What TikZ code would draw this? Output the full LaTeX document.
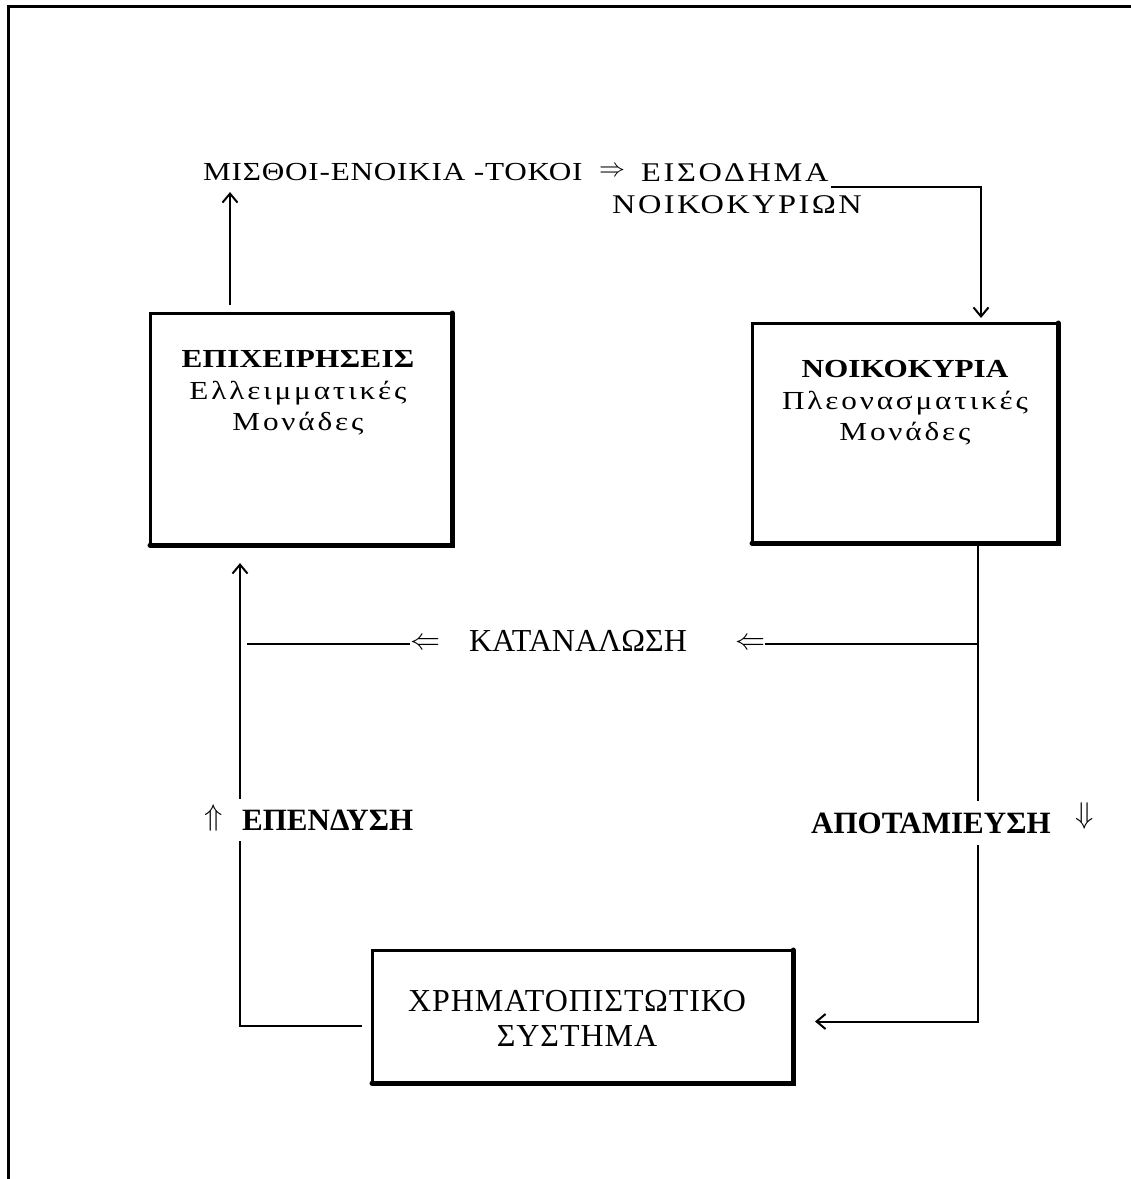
\RequirePackage{fix-cm}
\documentclass[tikz,border=0pt]{standalone}
\usepackage{fontspec}
\usetikzlibrary{arrows.meta}
\newfontfamily\tw{Liberation Serif}
\newfontfamily\tww[FakeStretch=1.2]{Liberation Serif}
\newcommand\ls[1]{\addfontfeature{LetterSpace=#1}}
\begin{document}
\begin{tikzpicture}[x=1pt,y=-1pt,
  boxs/.style={draw, line width=3pt, inner sep=0pt, outer sep=0pt, anchor=north west},
  heavy/.style={line width=5pt, line cap=round},
  boxtxt/.style={inner sep=0pt, align=center, font=\tww\fontsize{26}{31.5}\selectfont\ls{11}},
  toptxt/.style={inner sep=0pt, anchor=base west, font=\tww\fontsize{26}{26}\selectfont\ls{3}},
  bigtxt/.style={inner xsep=0pt, inner ysep=11pt, font=\tw\bfseries\fontsize{31}{31}\selectfont},
  arrtxt/.style={inner sep=0pt, font=\fontsize{30}{30}\selectfont},
  conn/.style={line width=2pt},
  tipc/.style={-{Straight Barb[length=9pt,width=15pt,line width=2pt]}},
]
\useasboundingbox (0,0) rectangle (1131,1179);
\fill[white] (0,0) rectangle (1131,1179);
\draw[line width=3pt] (1131,6) -- (8,6) -- (8,1179);

% vertical guide coordinates
\coordinate (lx) at (240,0);
\coordinate (rx) at (978,0);

% boxes
\node[boxs, minimum width=302pt, minimum height=232pt] (ent) at (150,313) {};
\node[boxs, minimum width=306pt, minimum height=220pt] (hh) at (752,323) {};
\node[boxs, minimum width=421pt, minimum height=133pt] (fin) at (372,950) {};
\draw[heavy] (ent.north east) -- (ent.south east) -- (ent.south west);
\draw[heavy] (hh.north east) -- (hh.south east) -- (hh.south west);
\draw[heavy] (fin.north east) -- (fin.south east) -- (fin.south west);

% box texts
\node[boxtxt] (entt) at (298,393) {{\bfseries\ls{1}ΕΠΙΧΕΙΡΗΣΕΙΣ}\\Ελλειμματικές\\Μονάδες};
\node[boxtxt] (hht) at (905,403) {{\bfseries\ls{0}ΝΟΙΚΟΚΥΡΙΑ}\\Πλεονασματικές\\Μονάδες};
\node[inner sep=0pt, align=center, font=\tw\fontsize{32}{35}\selectfont\ls{3}] (fint) at (577,1018) {ΧΡΗΜΑΤΟΠΙΣΤΩΤΙΚΟ\\ΣΥΣΤΗΜΑ};

% top texts
\node[toptxt] (wage) at (203,180) {ΜΙΣΘΟΙ-ΕΝΟΙΚΙΑ -ΤΟΚΟΙ};
\node[arrtxt, font=\fontsize{26}{26}\selectfont] (impl) at (612,172) {$\Rightarrow$};
\node[toptxt, font=\tww\fontsize{27}{27}\selectfont\ls{10}] (inc) at (641,181) {ΕΙΣΟΔΗΜΑ};
\node[toptxt, font=\tww\fontsize{27}{27}\selectfont\ls{9}] (inc2) at (612,213) {ΝΟΙΚΟΚΥΡΙΩΝ};

% consumption row
\node[inner sep=0pt, font=\tw\fontsize{32}{32}\selectfont] (cons) at (578,641) {ΚΑΤΑΝΑΛΩΣΗ};
\node[arrtxt] (ca1) at (425,644) {$\Leftarrow$};
\node[arrtxt] (ca2) at (750,644) {$\Leftarrow$};

% investment and saving labels
\node[bigtxt, anchor=west] (inv) at (242,820) {ΕΠΕΝΔΥΣΗ};
\node[arrtxt, font=\fontsize{30}{30}\selectfont] (invar) at (214,818) {$\Uparrow$};
\node[bigtxt, anchor=west] (sav) at (811,823) {ΑΠΟΤΑΜΙΕΥΣΗ};
\node[arrtxt, font=\fontsize{30}{30}\selectfont] (savar) at (1085,816) {$\Downarrow$};

% connectors
\draw[conn, tipc] ([shift={(-71,-8)}]ent.north) -- ([shift={(27,12)}]wage.base west);
\draw[conn, tipc] ([shift={(2,6)}]inc.base east) -| ([shift={(76,-5)}]hh.north);
\draw[conn] (hh.south -| rx) -- (sav.north -| rx);
\draw[conn, tipc] (sav.south -| rx) |- ([shift={(22,5)}]fin.east);
\draw[conn] (ca2 -| rx) -- (ca2.east);
\draw[conn] (ca1.west) -- ([xshift=7pt]ca1 -| lx);
\coordinate (entb) at ([yshift=-18pt]ent.south);
\draw[conn, tipc] (inv.north -| lx) -- (entb -| lx);
\draw[conn] (inv.south -| lx) |- ([shift={(-10,9)}]fin.west);
\end{tikzpicture}
\end{document}
